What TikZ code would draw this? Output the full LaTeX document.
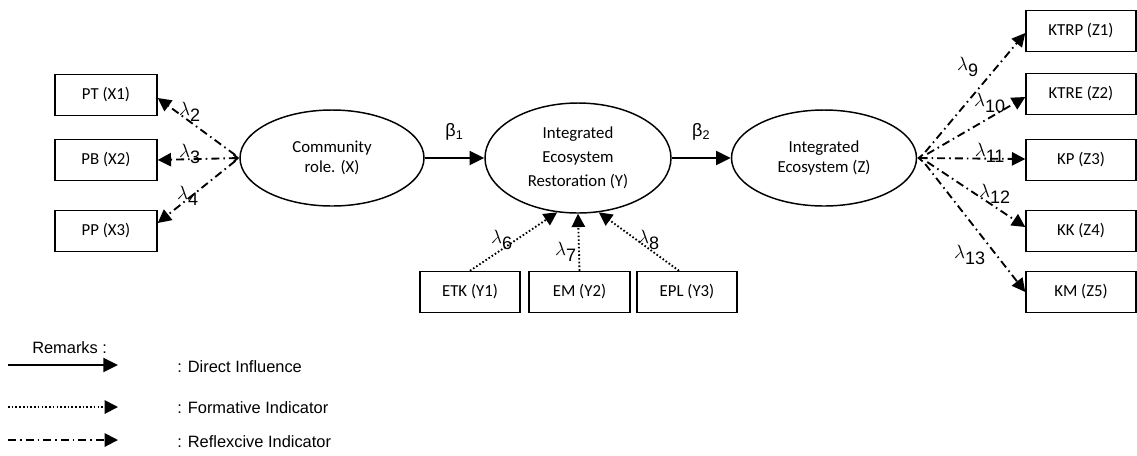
\documentclass[tikz,border=0pt]{standalone}
\usepackage{fontspec}
\setmainfont{Carlito}
\setsansfont{Liberation Sans}
\usetikzlibrary{arrows.meta,calc,shapes.geometric}
\begin{document}
\begin{tikzpicture}[x=0.75pt,y=-0.75pt,
  box/.style={draw,line width=1.1pt,minimum height=30.75pt,inner sep=0pt,font=\fontsize{12.6}{14}\selectfont},
  lat/.style={draw,ellipse,line width=1.1pt,inner sep=0pt,align=center,font=\fontsize{12.6}{15}\selectfont},
  direct/.style={line width=1.5pt,-{Triangle[length=11pt,width=10.5pt]}},
  form/.style={line width=1.4pt,dash pattern=on 1.2pt off 1.6pt,-{Triangle[length=10pt,width=10pt]}},
  refl/.style={line width=1.4pt,dash pattern=on 6pt off 3pt on 1.2pt off 3pt,-{Triangle[length=10pt,width=10pt]}},
  lab/.style={font=\fontsize{13.5}{13.5}\selectfont,inner sep=0pt},
  leg/.style={font=\sffamily\fontsize{12.3}{12.3}\selectfont,anchor=west,inner sep=0pt}
]
\useasboundingbox (0,0) rectangle (1137,455);

% left indicators
\node[box,minimum width=76.5pt] (PT) at (106,95) {PT (X1)};
\node[box,minimum width=76.5pt] (PB) at (106,160) {PB (X2)};
\node[box,minimum width=76.5pt] (PP) at (106,231) {PP (X3)};

% latent variables
\node[lat,minimum width=138pt,minimum height=72pt] (X) at (332,158) {Community\\role. (X)};
\node[lat,minimum width=139.5pt,minimum height=82.5pt,font=\fontsize{12.6}{18}\selectfont] (Y) at (578,158) {Integrated\\Ecosystem\\Restoration (Y)};
\node[lat,minimum width=138.75pt,minimum height=72pt] (Z) at (824,158) {Integrated\\Ecosystem (Z)};

% bottom indicators
\node[box,minimum width=75pt] (ETK) at (470,292) {ETK (Y1)};
\node[box,minimum width=75.75pt] (EM) at (579.5,292) {EM (Y2)};
\node[box,minimum width=75pt] (EPL) at (687,292) {EPL (Y3)};

% right indicators
\node[box,minimum width=82.5pt] (Z1) at (1081,31) {KTRP (Z1)};
\node[box,minimum width=82.5pt] (Z2) at (1081,94) {KTRE (Z2)};
\node[box,minimum width=82.5pt] (Z3) at (1081,160) {KP (Z3)};
\node[box,minimum width=82.5pt] (Z4) at (1081,231) {KK (Z4)};
\node[box,minimum width=82.5pt] (Z5) at (1081,292) {KM (Z5)};

% structural paths
\draw[direct] (X.east) -- (Y.west) node[midway,above=9pt,font=\sffamily\fontsize{13.5}{13.5}\selectfont] (b1) {β\textsubscript{1}};
\draw[direct] (Y.east) -- (Z.west) node[midway,above=9pt,font=\sffamily\fontsize{13.5}{13.5}\selectfont] (b2) {β\textsubscript{2}};

% reflective X
\draw[refl] ($(X.west)+(-4,-3)$) -- ($(PT.east)+(0,3)$);
\draw[refl,{Straight Barb[length=3pt,width=5pt]}-{Triangle[length=10pt,width=10pt]}] (X.west) -- (PB.east);
\draw[refl] ($(X.west)+(-4,3)$) -- ($(PP.east)+(0,-8)$);
\node[lab] (l2) at (190,112) {$\lambda_{\textsf{2}}$};
\node[lab] (l3) at (190,154) {$\lambda_{\textsf{3}}$};
\node[lab] (l4) at (188,196) {$\lambda_{\textsf{4}}$};

% formative Y
\draw[form] (ETK.north) -- (Y.-111);
\draw[form] (EM.north) -- (Y.south);
\draw[form] ($(EPL.north)+(-8,0)$) -- (Y.-69);
\node[lab] (l6) at (502,240) {$\lambda_{\textsf{6}}$};
\node[lab] (l7) at (566,252) {$\lambda_{\textsf{7}}$};
\node[lab] (l8) at (649,240) {$\lambda_{\textsf{8}}$};

% reflective Z
\draw[refl] ($(Z.east)+(8,-6)$) -- ($(Z1.west)+(0,2)$);
\draw[refl] ($(Z.east)+(10,-4)$) -- ($(Z2.west)+(0,3)$);
\draw[refl,{Straight Barb[length=3pt,width=5pt]}-{Triangle[length=10pt,width=10pt]}] (Z.east) -- ($(Z3.west)+(0,-1)$);
\draw[refl] ($(Z.east)+(10,4)$) -- ($(Z4.west)+(0,-4)$);
\draw[refl] ($(Z.east)+(8,6)$) -- (Z5.west);
\node[lab] (l9) at (968,67) {$\lambda_{\textsf{9}}$};
\node[lab] (l10) at (990,103) {$\lambda_{\textsf{10}}$};
\node[lab] (l11) at (990,153) {$\lambda_{\textsf{11}}$};
\node[lab] (l12) at (995,194) {$\lambda_{\textsf{12}}$};
\node[lab] (l13) at (970,255) {$\lambda_{\textsf{13}}$};

% legend
\node[leg] (rem) at (32,348) {Remarks :};
\coordinate (a1) at (8,365); \coordinate (b1e) at (118,365);
\coordinate (a2) at (8,407); \coordinate (b2e) at (118,407);
\coordinate (a3) at (8,440); \coordinate (b3e) at (118,440);
\draw[direct] (a1) -- (b1e);
\draw[form] (a2) -- (b2e);
\draw[refl] (a3) -- (b3e);
\node[leg] (t1) at (177,367) {: Direct Influence};
\node[leg] (t2) at (177,408) {: Formative Indicator};
\node[leg] (t3) at (177,442) {: Reflexcive Indicator};
\end{tikzpicture}
\end{document}
